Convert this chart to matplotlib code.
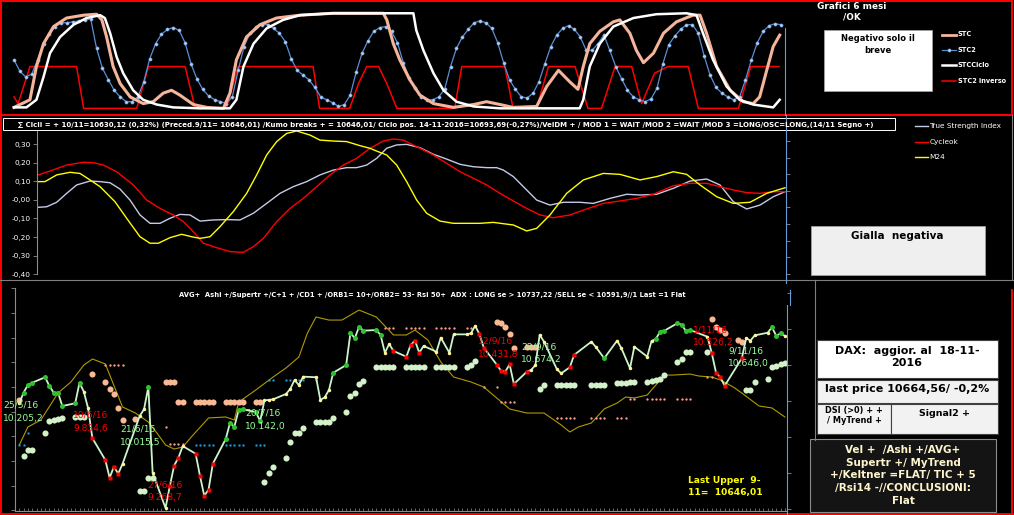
import numpy as np
import matplotlib
matplotlib.use("Agg")
import matplotlib.pyplot as plt
from matplotlib.patches import Rectangle

plt.rcParams['font.family'] = ['DejaVu Sans']

W, H = 1014, 515

# ---------------- pannello alto: STC (indice seduta) ----------------
stc2 = [51, 39, 33, 36, 51, 68, 78, 86, 90, 90, 91, 92, 93, 94, 63, 42, 30, 19, 12, 7,
        7, 12, 28, 52, 68, 78, 83, 85, 82, 69, 47, 31, 20, 13, 9, 7, 5, 12, 40, 65,
        79, 86, 88, 88, 84, 79, 70, 52, 40, 35, 30, 22, 12, 9, 6, 2, 4, 14, 38, 58,
        71, 81, 85, 86, 81, 69, 48, 32, 21, 12, 9, 9, 12, 20, 44, 63, 75, 83, 90, 92,
        90, 84, 69, 48, 30, 20, 12, 11, 16, 28, 47, 65, 77, 84, 87, 83, 75, 61, 61, 68,
        77, 61, 44, 31, 19, 12, 9, 7, 10, 21, 47, 67, 76, 83, 88, 88, 79, 55, 35, 22,
        16, 12, 9, 12, 30, 51, 69, 81, 87, 89, 88]

stc_t = [0, 2.7, 3.8, 5.0, 6.7, 8.9, 11.8, 14.0, 14.9, 15.7, 16.8, 18.0, 19.7, 21.9, 23.6,
         25.3, 26.7, 28.1, 30.4, 32.7, 35.5, 36.6, 37.7, 39.4, 41.7, 44.5, 48.5, 54.1, 62.6,
         63.2, 64.3, 65.4, 67.1, 68.8, 71.1, 74.5, 77.9, 80.1, 82.4, 84.6, 88.6, 90.3, 92.3,
         94.2, 95.6, 96.5, 97.6, 99.3, 101.6, 102.7, 104.4, 105.5, 106.7, 108.4, 110.1, 112.3,
         115.1, 116.3, 117.4, 119.1, 121.4, 123.6, 125.3, 126.4, 127.6, 128.7, 129.8]
stc_v = [1, 9, 44, 68, 86, 95, 98, 99, 93, 75, 44, 26, 12, 5, 7, 16, 19, 14, 4, 1,
         0, 16, 51, 75, 88, 95, 98, 100, 100, 93, 68, 51, 30, 14, 5, 1, 4, 7, 4, 1,
         2, 23, 40, 28, 20, 44, 68, 81, 91, 93, 79, 61, 48, 58, 79, 91, 98, 98, 79, 44,
         19, 7, 5, 12, 40, 65, 77]

ciclo_t = [0, 2.1, 3.8, 5.0, 6.1, 7.8, 10.1, 12.3, 14.6, 15.4, 16.3, 17.4, 18.5, 20.2, 21.9,
           24.2, 27.0, 31.5, 36.6, 37.7, 38.9, 40.6, 42.8, 45.6, 48.5, 54.1, 67.7, 68.2, 69.4,
           71.1, 72.8, 75.0, 77.9, 82.4, 95.9, 96.5, 97.6, 99.3, 101.6, 105.0, 108.9, 114.0,
           115.7, 116.8, 118.5, 120.8, 123.0, 125.3, 128.7, 129.8]
ciclo_v = [1, 1, 9, 33, 58, 75, 88, 95, 98, 95, 79, 54, 37, 19, 9, 4, 1, 0, 0, 9,
           44, 68, 84, 93, 98, 100, 100, 82, 61, 37, 19, 7, 2, 0, 0, 9, 44, 68, 86, 95,
           99, 100, 98, 79, 51, 23, 9, 4, 1, 9]

inv_t = [0, 0.7, 2.7, 10.6, 11.8, 20.8, 22.8, 29.0, 30.7, 36.0, 38.0, 50.7, 51.8, 56.9, 58.4,
         59.8, 61.8, 63.2, 64.9, 74.7, 75.9, 83.2, 84.6, 88.6, 90.6, 95.1, 97.3, 99.6, 101.9,
         104.7, 106.4, 108.6, 110.9, 114.3, 116.0, 122.8, 124.9, 129.7]
inv_v = [12, 5, 44, 44, 0, 0, 44, 44, 0, 0, 44, 44, 0, 0, 26, 44, 44, 26, 0, 0,
         44, 44, 0, 0, 44, 44, 0, 0, 44, 44, 5, 37, 44, 44, 0, 0, 44, 44]

# ---------------- pannello centrale: oscillatori ----------------
tsi_x = [0, 1.25, 2.75, 4.25, 5.75, 7.75, 9.25, 10.75, 12.25, 13.75, 15.25, 16.75, 18.25, 19.75,
         21.25, 22.75, 24.25, 26.25, 28.25, 30.25, 32.25, 34.25, 36.25, 38.25, 40.25, 42.25,
         44.25, 46.25, 47.75, 49.25, 50.75, 52.25, 53.75, 55.25, 57.25, 59.25, 61.25, 63.25,
         65.25, 67.25, 68.75, 69.75, 71.25, 73.25, 74.75, 76.75, 78.75, 81.25, 83.25, 85.75,
         88.25, 90.25, 92.75, 95.25, 97.75, 100.25, 102.25, 104.25, 106.25, 108.25, 110.25, 112]
tsi_y = [-0.040, -0.037, -0.013, 0.035, 0.080, 0.101, 0.098, 0.092, 0.058, -0.001,
         -0.081, -0.126, -0.126, -0.099, -0.078, -0.081, -0.114, -0.108, -0.106, -0.108,
         -0.072, -0.019, 0.035, 0.071, 0.098, 0.134, 0.160, 0.173, 0.173, 0.187,
         0.223, 0.277, 0.295, 0.298, 0.280, 0.245, 0.219, 0.191, 0.178, 0.173,
         0.173, 0.160, 0.125, 0.053, -0.001, -0.028, -0.013, -0.013, -0.019, 0.008,
         0.030, 0.026, 0.030, 0.062, 0.101, 0.112, 0.080, -0.010, -0.049, -0.028,
         0.017, 0.044]

cyc_x = [0, 1.75, 4.25, 6.75, 8.25, 9.75, 11.75, 14.25, 16.25, 18.25, 20.25, 21.75, 23.25,
         24.75, 26.75, 28.75, 30.75, 32.25, 33.75, 35.75, 37.75, 39.75, 41.75, 43.75, 45.75,
         47.75, 49.75, 51.75, 53.25, 54.75, 56.75, 59.25, 61.25, 63.25, 65.25, 67.25, 69.25,
         71.25, 73.25, 75.25, 77.25, 79.75, 82.25, 84.75, 87.25, 89.75, 92.25, 95.25, 97.75,
         100.25, 102.25, 104.25, 106.25, 108.25, 110.25, 112]
cyc_y = [0.134, 0.155, 0.187, 0.202, 0.200, 0.187, 0.151, 0.080, -0.001, -0.046,
         -0.081, -0.117, -0.171, -0.233, -0.257, -0.278, -0.282, -0.251, -0.207, -0.117,
         -0.046, 0.008, 0.071, 0.134, 0.187, 0.223, 0.277, 0.316, 0.327, 0.321,
         0.286, 0.241, 0.196, 0.151, 0.116, 0.080, 0.035, -0.006, -0.046, -0.081,
         -0.096, -0.081, -0.049, -0.019, -0.006, 0.008, 0.030, 0.076, 0.089, 0.089,
         0.071, 0.053, 0.039, 0.035, 0.044, 0.044]

m24_x = [0, 1, 2.75, 4.75, 6.25, 7.75, 9.25, 11.5, 13.25, 15.25, 16.75, 18, 19.75, 21.5, 23,
         24.25, 25.75, 27.25, 29.25, 31.25, 32.75, 34.25, 35.75, 37.25, 38.75, 40.75, 42.25,
         44.25, 46.25, 48.25, 49.75, 50.75, 52.25, 53.75, 55.25, 56.75, 58.25, 60.25, 62.25,
         64.25, 66.25, 68.25, 71.25, 73.25, 74.75, 76.75, 79.25, 81.75, 84.75, 87.25, 90.25,
         92.75, 95.25, 97.25, 99.25, 101.75, 104.25, 106.75, 109.25, 112]
m24_y = [0.098, 0.098, 0.134, 0.148, 0.142, 0.107, 0.071, -0.010, -0.099, -0.198,
         -0.233, -0.233, -0.203, -0.185, -0.198, -0.207, -0.198, -0.144, -0.063, 0.035,
         0.134, 0.241, 0.313, 0.357, 0.370, 0.348, 0.321, 0.316, 0.313, 0.291,
         0.277, 0.262, 0.241, 0.187, 0.098, -0.001, -0.072, -0.114, -0.126, -0.126,
         -0.126, -0.121, -0.135, -0.167, -0.153, -0.081, 0.035, 0.107, 0.142, 0.137,
         0.107, 0.125, 0.151, 0.137, 0.080, 0.017, -0.019, -0.013, 0.035, 0.065]

# ---------------- pannello basso: DAX (giorni dal 23/5/2016) ----------------
px_d = [1, 2, 3, 4, 7, 8, 9, 10, 11, 14, 15, 16, 17, 18, 21, 22, 23, 24, 25, 29,
        30, 31, 32, 35, 36, 37, 38, 39, 42, 43, 44, 45, 46, 49, 50, 51, 52, 53, 56, 57,
        58, 59, 60, 63, 64, 65, 66, 67, 70, 71, 72, 73, 74, 77, 78, 79, 80, 81, 84, 85,
        86, 87, 88, 91, 92, 93, 94, 95, 98, 99, 101, 102, 105, 106, 107, 108, 109, 112, 113, 114,
        115, 116, 119, 120, 121, 122, 123, 126, 127, 129, 130, 134, 135, 137, 140, 141, 143, 144, 147, 148,
        149, 150, 151, 154, 155, 156, 157, 161, 162, 163, 164, 165, 169, 170, 171, 172, 175, 176, 177, 178,
        179]
px_p = [10118, 10205.2, 10266, 10285, 10329, 10258, 10204, 10204, 10096, 10118, 10285, 10212, 10077, 9834.6, 9658, 9514, 9604, 9547, 9626, 10015.5,
        10069, 10250, 9555, 9268.7, 9447, 9612, 9677, 9771, 9709, 9531, 9368, 9417, 9628, 9828, 9960, 9928, 10063, 10069, 10047, 9974,
        10142.0, 10145, 10150, 10193, 10234, 10307, 10266, 10334, 10329, 10145, 10166, 10226, 10366, 10428, 10690, 10645, 10739, 10707, 10712, 10672,
        10528, 10599, 10542, 10496, 10591, 10626, 10528, 10583, 10536, 10650, 10528, 10677, 10677, 10685, 10747, 10677, 10569, 10431.8, 10382, 10374,
        10434, 10274, 10374, 10388, 10428, 10674.2, 10617, 10394, 10361, 10410, 10510, 10617, 10577, 10483, 10626, 10564, 10402, 10577, 10496, 10623,
        10639, 10699, 10707, 10767, 10755, 10704, 10712, 10658, 10526.2, 10366, 10329, 10260, 10483, 10646.0, 10626, 10669, 10690, 10734, 10666, 10685,
        10664.6]
# segnale di ogni seduta: g = verde, y = giallo, r = rosso
px_sig = list("yggggggggggyyrrrrryy"
              "ygyyrrryrrrrrggggggg"
              "yyyyyyyyyyyygggggggg"
              "yyrrrrryyyyyyyyrrrrr"
              "rrryyyyyyrryygyyyyyy"
              "gggggggyrrrrryyyyggg"
              "y")

kelt_d = [1, 3, 6, 10, 13, 16, 18, 21, 25, 28, 31, 33, 35, 37, 39, 41, 45, 49, 51, 52,
          56, 60, 63, 66, 68, 70, 73, 76, 80, 84, 88, 91, 93, 96, 99, 102, 106, 109, 112, 115,
          119, 123, 127, 129, 131, 134, 137, 140, 142, 144, 147, 151, 153, 157, 159, 162, 164, 167, 169, 173,
          176, 179]
kelt_p = [9780, 9926, 9982, 10201, 10291, 10428, 10477, 10437, 10088, 10039, 9966, 9877, 9780, 9747, 9763, 9845, 9999, 10007, 9982, 10128,
          10226, 10331, 10404, 10493, 10688, 10818, 10793, 10793, 10874, 10818, 10672, 10672, 10712, 10631, 10453, 10331, 10291, 10250, 10161, 10072,
          10039, 10039, 9942, 9885, 9926, 9958, 10072, 10120, 10169, 10161, 10185, 10347, 10347, 10355, 10339, 10331, 10307, 10250, 10201, 10096,
          10080, 10007]

sup_d = [2, 3, 4, 7, 8, 9, 10, 11, 14, 15, 16, 29, 30, 31, 32, 58, 59, 60, 63, 64,
         65, 66, 67, 70, 71, 72, 73, 74, 77, 78, 79, 80, 81, 84, 85, 86, 87, 88, 91, 92,
         93, 94, 95, 98, 99, 100, 101, 102, 105, 106, 107, 122, 123, 126, 127, 128, 129, 130, 134, 135,
         136, 137, 140, 141, 142, 143, 144, 147, 148, 149, 150, 151, 154, 155, 156, 157, 161, 170, 171, 172,
         175, 176, 177, 178, 179]
sup_p = [9690, 9739, 9739, 9877, 9974, 9982, 9990, 9999, 10007, 10007, 10007, 9407, 9407, 9512, 9512, 9480, 9553, 9601, 9674, 9804,
         9877, 9877, 9918, 9966, 9966, 9966, 9966, 9999, 10047, 10177, 10201, 10274, 10299, 10412, 10412, 10412, 10412, 10412, 10412, 10412,
         10412, 10412, 10412, 10412, 10412, 10412, 10412, 10412, 10412, 10428, 10461, 10234, 10266, 10266, 10266, 10266, 10266, 10266, 10266, 10266,
         10266, 10266, 10282, 10282, 10282, 10291, 10291, 10291, 10299, 10307, 10315, 10347, 10453, 10477, 10534, 10534, 10534, 10226, 10226, 10291,
         10315, 10412, 10420, 10436, 10445]

pesca_d = [1, 18, 21, 22, 23, 24, 25, 28, 35, 36, 37, 38, 39, 42, 43, 44, 45, 46, 49, 50,
           51, 52, 53, 56, 57, 112, 113, 114, 115, 116, 119, 120, 121, 162, 163, 164, 165, 168, 169]
pesca_p = [10145, 10355, 10291, 10234, 10193, 10080, 9982, 9990, 10291, 10291, 10291, 10128, 10128, 10128, 10128, 10128, 10128, 10128, 10128, 10128,
           10128, 10128, 10128, 10128, 10128, 10777, 10769, 10737, 10680, 10566, 10574, 10574, 10574, 10801, 10737, 10712, 10688, 10631, 10615]

blu_d = [1, 2, 3, 42, 43, 44, 45, 46, 49, 50, 51, 52, 53, 56, 57, 58, 59, 60, 63, 64, 65, 66, 67, 70]
blu_p = [9780, 9780, 9877, 9780, 9780, 9780, 9780, 9780, 9780, 9780, 9780, 9780, 9780, 9780, 9780, 9780,
         10307, 10307, 10307, 10307, 10307, 10307, 10307, 10307]

ast_d = [21, 22, 23, 24, 25, 35, 36, 37, 38, 39, 86, 87, 88, 91, 92, 93, 94, 95, 98, 99,
         100, 101, 102, 105, 106, 109, 112, 113, 114, 115, 116, 126, 127, 128, 129, 130, 134, 135, 136, 137,
         140, 141, 142, 143, 144, 147, 148, 149, 150, 151, 154, 155, 156, 157, 161, 162]
ast_p = [10428, 10428, 10428, 10428, 10428, 9926, 9788, 9788, 9788, 9788, 10729, 10729, 10729, 10729, 10729, 10729, 10729, 10729, 10729, 10729,
         10729, 10729, 10729, 10729, 10729, 10250, 10250, 10128, 10128, 10128, 10128, 9999, 9999, 9999, 9999, 9999, 9999, 9999, 9999, 9999,
         9999, 9999, 9999, 10153, 10153, 10153, 10153, 10153, 10153, 10153, 10153, 10153, 10153, 10153, 10331, 10331]

etichette = [("25/5/16", "10.205,2", "g"), ("10/6/16", "9.834,6", "r"), ("21/6/16", "10.015,5", "g"),
             ("27/6/16", "9.268,7", "r"), ("20/7/16", "10.142,0", "g"), ("12/9/16", "10.431,8", "r"),
             ("22/9/16", "10.674,2", "g"), ("1/11/16", "10.526,2", "r"), ("9/11/16", "10.646,0", "g")]
etich_pos = [(3, 407, 421), (73, 418, 431), (120, 431.5, 444.5), (147, 487, 500), (245, 416, 428.5),
             (478, 344, 357.5), (521, 349, 362), (693, 332.5, 345.5), (728, 353, 366)]

titolo_cicli = ("\u2211 Cicli = + 10/11=10630,12 (0,32%) (Preced.9/11= 10646,01) /Kumo breaks + = 10646,01/ "
                "Ciclo pos. 14-11-2016=10693,69(-0,27%)/VelDM + / MOD 1 = WAIT /MOD 2 =WAIT /MOD 3 "
                "=LONG/OSC=LONG,(14/11 Segno +)")
titolo_segnali = ("AVG+  Ashi +/Supertr +/C+1 + /CD1 + /ORB1= 10+/ORB2= 53- Rsi 50+  ADX : LONG se > "
                  "10737,22 /SELL se < 10591,9//1 Last =1 Flat")
vel_righe = ["Vel +  /Ashi +/AVG+", "Supertr +/ MyTrend", "+/Keltner =FLAT/ TIC + 5",
             "/Rsi14 -//CONCLUSIONI:", "Flat"]


def rect(x0, y0, x1, y1):
    return [x0 / W, 1 - y1 / H, (x1 - x0) / W, (y1 - y0) / H]


fig = plt.figure(figsize=(W / 100, H / 100), dpi=100, facecolor='black')

# ---- alto
ax1 = fig.add_axes(rect(10, 3, 785, 113))
ax1.axis('off')
ax1.plot(inv_t, inv_v, color='#FF0000', lw=1.1)
ax1.plot(np.arange(len(stc2)), stc2, color='#5B8ED6', lw=0.9, marker='o', ms=2.3,
         mfc='#B4D0F0', mec='#6C9EDC', mew=0.4)
ax1.plot(stc_t, stc_v, color='#F4B59A', lw=2.2)
ax1.plot(ciclo_t, ciclo_v, color='white', lw=1.8)
ax1.set_xlim(-0.68, 130.7)
ax1.set_ylim(-4.9, 110.8)

# ---- centro
ax2 = fig.add_axes(rect(37, 128, 786, 276))
ax2.set_facecolor('none')
ax2.plot(tsi_x, tsi_y, color='#C5CBE6', lw=1)
ax2.plot(cyc_x, cyc_y, color='#FF0000', lw=1)
ax2.plot(m24_x, m24_y, color='#FFFF00', lw=1)
ax2.set_xlim(-0.2, 112.15)
ax2.set_ylim(-0.409, 0.386)
for s in ['top', 'right', 'bottom']:
    ax2.spines[s].set_visible(False)
ax2.spines['left'].set_color('#8C8C8C')
ax2.spines['left'].set_bounds(-0.40, 0.375)
yt = np.round(np.arange(-0.4, 0.31, 0.1), 2)
ax2.set_yticks(yt)
ax2.set_yticklabels([f"{v:.2f}".replace('.', ',') for v in yt])
ax2.set_xticks([])
ax2.tick_params(axis='y', colors='#8C8C8C', labelcolor='white', labelsize=5.3, length=3, width=0.6, pad=1.5)
ax2r = ax2.twinx()
ax2r.set_ylim(-0.12, 8.78)
ax2r.set_yticks(range(9))
ax2r.set_yticklabels([])
ax2r.tick_params(axis='y', colors='#8C8C8C', length=3, width=0.6)
for s in ax2r.spines.values():
    s.set_visible(False)

# ---- basso
ax3 = fig.add_axes(rect(15, 288, 787, 511))
ax3.set_facecolor('none')
ax3.plot(kelt_d, kelt_p, color='#B09A00', lw=0.8)
ax3.plot(sup_d, sup_p, ls='none', marker='o', ms=4.4, color='#D3F2C9', mec='none')
ax3.plot(pesca_d, pesca_p, ls='none', marker='o', ms=4.4, color='#F8B995', mec='none')
ax3.plot(ast_d, ast_p, ls='none', marker='o', ms=1.7, color='#FF9B8C', mec='none')
ax3.plot(blu_d, blu_p, ls='none', marker='s', ms=1.6, color='#1CA8E8', mec='none')
ax3.plot(px_d, px_p, color='#CCF5CC', lw=1.3)
sig = np.array(px_sig)
dd = np.array(px_d)
pp = np.array(px_p)
ax3.plot(dd[sig == 'y'], pp[sig == 'y'], ls='none', marker='o', ms=2.5, color='#FFF59A', mec='none')
ax3.plot(dd[sig == 'g'], pp[sig == 'g'], ls='none', marker='o', ms=3.6, color='#2EC22E', mec='none')
ax3.plot(dd[sig == 'r'], pp[sig == 'r'], ls='none', marker='s', ms=3.2, color='#FF0000', mec='none')
ax3.set_xlim(0, 179.5)
ax3.set_ylim(9244.4, 11053)
ax3.spines['top'].set_visible(False)
ax3.spines['right'].set_visible(False)
ax3.spines['left'].set_color('#8C8C8C')
ax3.spines['bottom'].set_color('#8C8C8C')
ax3.set_yticks(np.arange(9250, 11051, 200))
ax3.set_yticklabels([])
ax3.set_xticks(np.arange(0, 180, 1))
ax3.set_xticklabels([])
ax3.tick_params(axis='y', colors='#8C8C8C', length=3, width=0.6)
ax3.tick_params(axis='x', colors='#8C8C8C', direction='in', length=2, width=0.5)
ax3r = ax3.twinx()
ax3r.set_ylim(-0.056, 6.14)
ax3r.set_yticks(range(7))
ax3r.set_yticklabels([])
ax3r.tick_params(axis='y', colors='#8C8C8C', length=3, width=0.6)
for s in ax3r.spines.values():
    s.set_visible(False)

# ---- cornici, testi, riquadri (coordinate in pixel)
ov = fig.add_axes([0, 0, 1, 1])
ov.set_xlim(0, W)
ov.set_ylim(H, 0)
ov.axis('off')

ov.add_patch(Rectangle((0.7, 0.7), 1011.6, 114, fill=False, ec='red', lw=1.4))
ov.plot([0.7, 0.7], [115, 515], color='red', lw=1.4)
ov.plot([0, 1013], [514, 514], color='red', lw=1.4)
ov.plot([1012.3, 1012.3], [290, 515], color='red', lw=1.4)
ov.plot([1012, 1012], [115, 280], color='#7F7F7F', lw=0.8)
ov.plot([0, 1013], [280, 280], color='#7F7F7F', lw=0.8)
ov.plot([815, 815], [280, 440], color='#7F7F7F', lw=0.8)
blu = '#6A9BD8'
ov.plot([785, 785], [28, 115], color=blu, lw=0.8)
ov.plot([786, 786], [115, 283], color=blu, lw=0.8)
ov.plot([787, 787], [305, 515], color=blu, lw=0.8)
ov.plot([790, 790], [290, 305], color=blu, lw=0.8)

ov.add_patch(Rectangle((3, 118), 892, 12, fill=False, ec='white', lw=0.7))
ov.text(18, 127.3, titolo_cicli, color='white', fontsize=5.05, fontweight='bold', va='baseline', ha='left')
ov.text(179, 297.3, titolo_segnali, color='white', fontsize=4.85, fontweight='bold', va='baseline', ha='left')

# titolo e box in alto a destra
ov.text(852, 9, "Grafici 6 mesi", color='white', fontsize=6.4, fontweight='bold', ha='center', va='baseline')
ov.text(852, 20, "/OK", color='white', fontsize=6.4, fontweight='bold', ha='center', va='baseline')
ov.add_patch(Rectangle((824, 30), 108, 61, fc='white', ec='#A0A0A0', lw=0.6))
ov.text(878, 40.7, "Negativo solo il", color='black', fontsize=6, fontweight='bold', ha='center', va='baseline')
ov.text(878, 53.3, "breve", color='black', fontsize=6, fontweight='bold', ha='center', va='baseline')

# legenda alto
ov.plot([942, 956], [34.5, 34.5], color='#F4B59A', lw=2)
ov.plot([942, 956], [49.5, 49.5], color='#5B8ED6', lw=0.9)
ov.plot([949], [49.5], marker='o', ms=2.3, mfc='#B4D0F0', mec='#6C9EDC', mew=0.4)
ov.plot([942, 956], [65, 65], color='white', lw=1.8)
ov.plot([942, 956], [81, 81], color='#FF0000', lw=1.1)
for y, lab in zip([34.5, 49.5, 65, 81], ["STC", "STC2", "STCCiclo", "STC2 inverso"]):
    ov.text(957.5, y, lab, color='white', fontsize=4.7, fontweight='bold', ha='left', va='center')

# legenda centro
for y, c, lab in zip([126, 142, 157], ['#C5CBE6', '#FF0000', '#FFFF00'], ["True Strength Index", "Cycleok", "M24"]):
    ov.plot([915, 928], [y, y], color=c, lw=1)
    ov.text(929.5, y, lab, color='white', fontsize=5.3, ha='left', va='center')

ov.add_patch(Rectangle((811, 226), 174, 49, fc='#EFEFEF', ec='#A0A0A0', lw=0.6))
ov.text(897.5, 239, "Gialla  negativa", color='black', fontsize=7.5, fontweight='bold', ha='center', va='baseline')

# etichette prezzi
col_lab = {'g': '#99FF99', 'r': '#FF0000'}
for (d, v, c), (x, b1, b2) in zip(etichette, etich_pos):
    ov.text(x, b1, d, color=col_lab[c], fontsize=6.6, ha='left', va='baseline')
    ov.text(x, b2, v, color=col_lab[c], fontsize=6.6, ha='left', va='baseline')
ov.text(688, 482.7, "Last Upper  9-", color='#FFFF00', fontsize=6.6, fontweight='bold', ha='left', va='baseline')
ov.text(688, 495, "11=  10646,01", color='#FFFF00', fontsize=6.6, fontweight='bold', ha='left', va='baseline')

# riquadri in basso a destra
ov.add_patch(Rectangle((817, 340), 181, 38, fc='white', ec='#404040', lw=0.8))
ov.text(907, 353.5, "DAX:  aggior. al  18-11-", color='black', fontsize=8.0, fontweight='bold', ha='center', va='baseline')
ov.text(907, 365.5, "2016", color='black', fontsize=8.0, fontweight='bold', ha='center', va='baseline')
ov.add_patch(Rectangle((817, 380), 181, 23, fc='#F2F2F2', ec='#404040', lw=0.8))
ov.text(907, 392.5, "last price 10664,56/ -0,2%", color='black', fontsize=8.0, fontweight='bold', ha='center', va='baseline')
ov.add_patch(Rectangle((817, 404), 74, 30, fc='#F2F2F2', ec='#404040', lw=0.8))
ov.text(854, 413, "DSI (>0) + +", color='black', fontsize=5.9, fontweight='bold', ha='center', va='baseline')
ov.text(854, 423, "/ MyTrend +", color='black', fontsize=5.9, fontweight='bold', ha='center', va='baseline')
ov.add_patch(Rectangle((891, 404), 107, 30, fc='#F2F2F2', ec='#404040', lw=0.8))
ov.text(944.5, 416.5, "Signal2 +", color='black', fontsize=6.8, fontweight='bold', ha='center', va='baseline')
ov.add_patch(Rectangle((810, 439), 186, 73, fc='#141414', ec='#8C8C8C', lw=0.8))
for y, riga in zip([453, 466, 478, 491.5, 504], vel_righe):
    ov.text(903, y, riga, color='#FFF5CC', fontsize=7.5, fontweight='bold', ha='center', va='baseline')

fig.savefig("out.png", dpi=100, facecolor='black')
